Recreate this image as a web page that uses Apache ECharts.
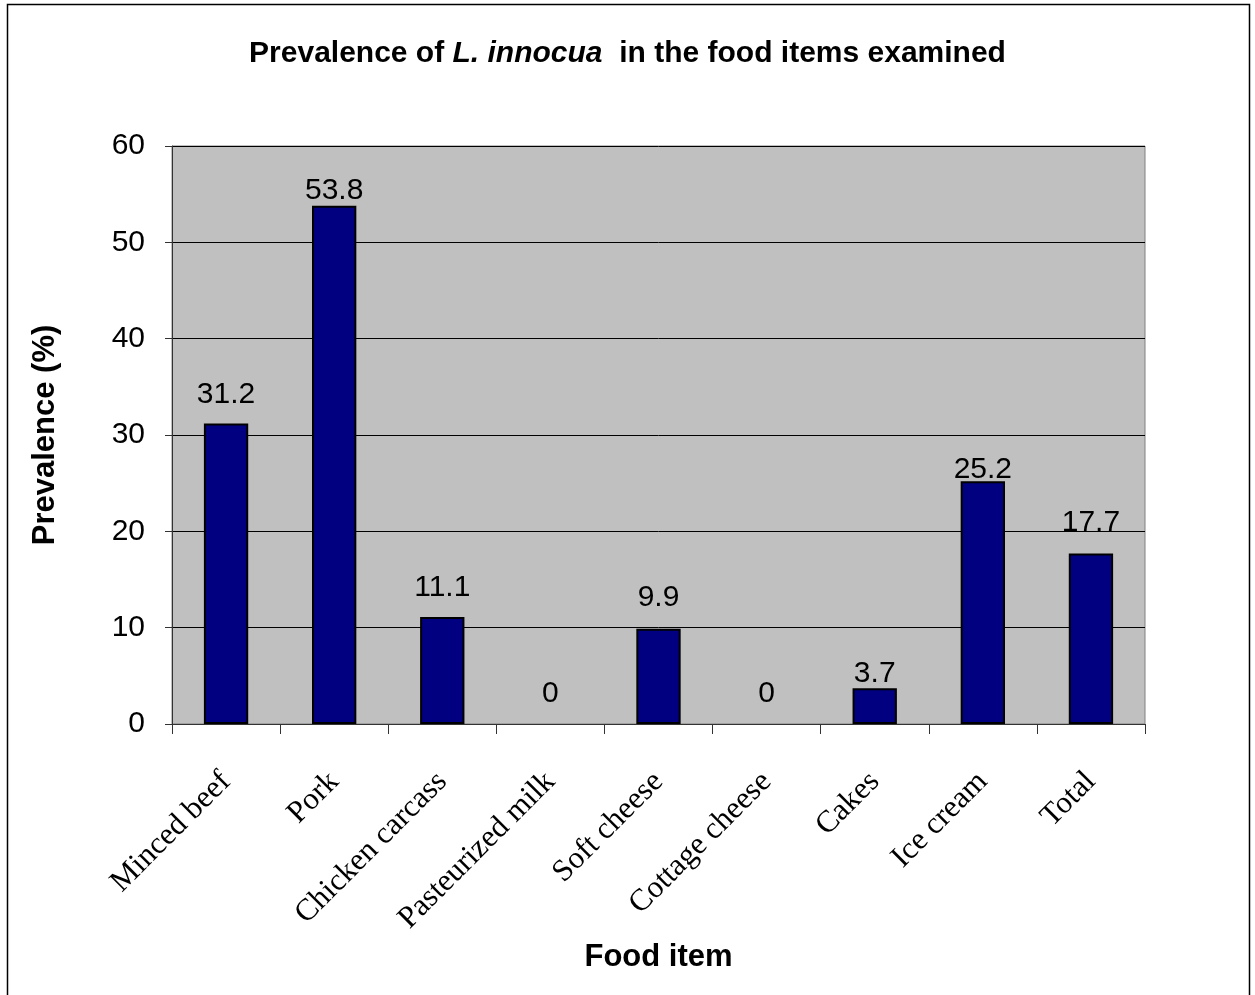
<!DOCTYPE html>
<html>
    <head>
        <meta charset="utf-8">
        <title>Prevalence of L. innocua</title>
        <script src="https://cdn.jsdelivr.net/npm/echarts@6/dist/echarts.min.js"></script>
        <style>
            html, body { margin: 0; padding: 0; background: #fff; }
        </style>
    </head>
    <body>
        <div id="chart" style="width:1255px;height:995px;"></div>
        <script type="text/javascript">
            // data
            var foodItems = ['Minced beef', 'Pork', 'Chicken carcass', 'Pasteurized milk',
                'Soft cheese', 'Cottage cheese', 'Cakes', 'Ice cream', 'Total'];
            var prevalence = [31.2, 53.8, 11.1, 0, 9.9, 0, 3.7, 25.2, 17.7];
            var yTicks = [0, 10, 20, 30, 40, 50, 60];

            // label gap above each bar (Excel placed them unevenly)
            var labelGap = [14, 0, 14, 15, 16, 15, 0, -3, 16];

            var myChart = echarts.init(document.getElementById('chart'));

            myChart.setOption({
                animation: false,
                backgroundColor: '#fff',
                textStyle: { fontFamily: 'Liberation Sans, Arial, sans-serif', color: '#000' },
                title: {
                    text: '{a|Prevalence of }{b|L. innocua}{a|  in the food items examined}',
                    left: 'center',
                    top: 34,
                    textStyle: {
                        rich: {
                            a: { fontSize: 30, fontWeight: 'bold', color: '#000', fontFamily: 'Liberation Sans' },
                            b: { fontSize: 30, fontWeight: 'bold', fontStyle: 'italic', color: '#000', fontFamily: 'Liberation Sans' }
                        }
                    }
                },
                graphic: [{
                    type: 'rect',
                    silent: true,
                    shape: { x: 7.5, y: 4.5, width: 1242, height: 1010 },
                    style: { fill: 'none', stroke: '#000', lineWidth: 1.5 }
                }],
                grid: {
                    left: 172,
                    right: 110,
                    top: 146,
                    bottom: 271,
                    show: true,
                    backgroundColor: '#C0C0C0',
                    borderColor: '#808080',
                    borderWidth: 1
                },
                xAxis: {
                    type: 'category',
                    data: foodItems,
                    name: 'Food item',
                    nameLocation: 'middle',
                    nameGap: 206,
                    nameTextStyle: { fontSize: 31, fontWeight: 'bold', color: '#000' },
                    axisLine: { lineStyle: { color: '#333', width: 1 } },
                    axisTick: { show: true, length: 10, alignWithLabel: false, lineStyle: { color: '#333' } },
                    axisLabel: {
                        rotate: 45,
                        margin: 53,
                        fontFamily: 'Liberation Serif, Times New Roman, serif',
                        fontSize: 31,
                        color: '#000',
                        interval: 0
                    }
                },
                yAxis: {
                    type: 'value',
                    min: yTicks[0],
                    max: yTicks[yTicks.length - 1],
                    interval: 10,
                    name: 'Prevalence (%)',
                    nameLocation: 'middle',
                    nameGap: 111,
                    nameTextStyle: { fontSize: 31, fontWeight: 'bold', color: '#000' },
                    axisLine: { show: true, lineStyle: { color: '#333', width: 1 } },
                    axisTick: { show: true, length: 7, lineStyle: { color: '#333' } },
                    axisLabel: { fontSize: 30, color: '#000', margin: 27 },
                    splitLine: { lineStyle: { color: '#000', width: 1 } }
                },
                series: [{
                    type: 'bar',
                    barWidth: '41%',
                    data: prevalence.map(function (v, i) {
                        return {
                            value: v,
                            label: { distance: labelGap[i] },
                            itemStyle: v === 0 ? { borderWidth: 0 } : {}
                        };
                    }),
                    itemStyle: { color: '#000080', borderColor: '#000', borderWidth: 2 },
                    label: {
                        show: true,
                        position: 'top',
                        fontSize: 30,
                        color: '#000'
                    }
                }]
            });
        </script>
    </body>
</html>
